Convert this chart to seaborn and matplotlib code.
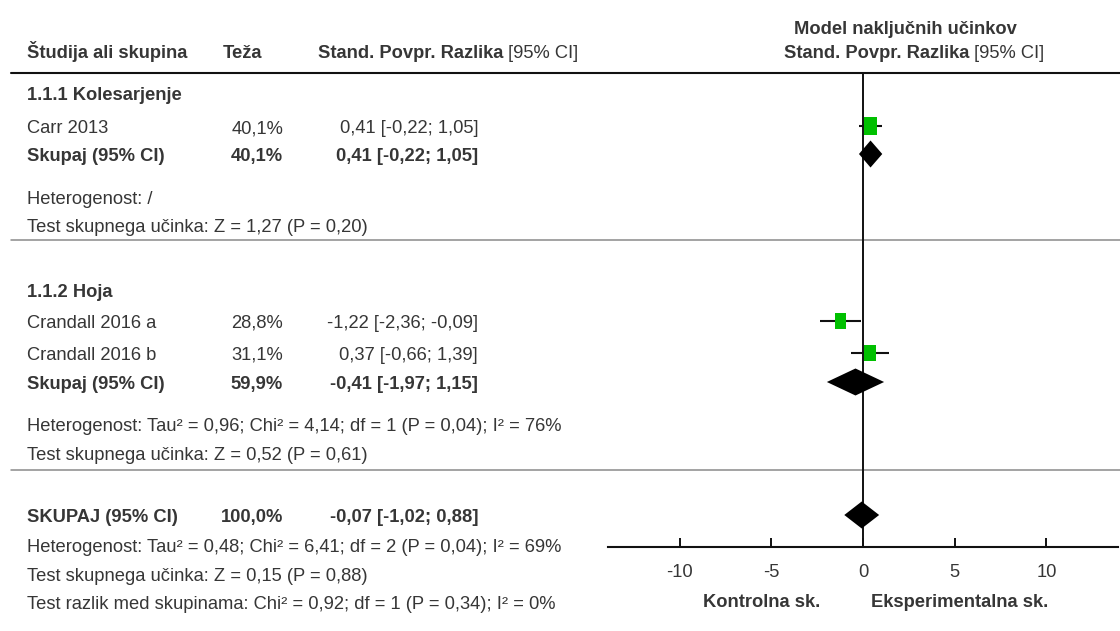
import numpy as np
import pandas as pd
import matplotlib.pyplot as plt
import seaborn as sns

# ---- data ----
studies = ['Carr 2013', 'Crandall 2016 a', 'Crandall 2016 b']
weights = [40.1, 28.8, 31.1]
smd = [0.41, -1.22, 0.37]
ci_low = [-0.22, -2.36, -0.66]
ci_high = [1.05, -0.09, 1.39]

pooled_labels = ['Skupaj (95% CI)', 'Skupaj (95% CI)', 'SKUPAJ (95% CI)']
pooled_weights = [40.1, 59.9, 100.0]
pooled_smd = [0.41, -0.41, -0.07]
pooled_low = [-0.22, -1.97, -1.02]
pooled_high = [1.05, 1.15, 0.88]

group_names = ['1.1.1 Kolesarjenje', '1.1.2 Hoja']
notes = [
    'Heterogenost: /',
    'Test skupnega učinka: Z = 1,27 (P = 0,20)',
    'Heterogenost: Tau² = 0,96; Chi² = 4,14; df = 1 (P = 0,04); I² = 76%',
    'Test skupnega učinka: Z = 0,52 (P = 0,61)',
    'Heterogenost: Tau² = 0,48; Chi² = 6,41; df = 2 (P = 0,04); I² = 69%',
    'Test skupnega učinka: Z = 0,15 (P = 0,88)',
    'Test razlik med skupinama: Chi² = 0,92; df = 1 (P = 0,34); I² = 0%',
]
x_ticks = [-10, -5, 0, 5, 10]
x_side_labels = ['Kontrolna sk.', 'Eksperimentalna sk.']

# ---- layout (pixel rows of the 1120x631 canvas) ----
study_rows = [126, 321, 353]
pooled_rows = [154, 382, 515]
group_rows = [93, 290]
note_rows = [197, 225, 424, 453, 545, 574, 602]
sep_rows = [240, 470]

def fmt(v):
    return f'{v:.2f}'.replace('.', ',')

def fmt_w(v):
    return f'{v:.1f}%'.replace('.', ',')

sns.set_theme(style='white')
plt.rcParams['font.family'] = ['Liberation Sans', 'DejaVu Sans']
txt = '#363636'
fs = 13.2

fig = plt.figure(figsize=(11.2, 6.31), dpi=100)
bg = fig.add_axes([0, 0, 1, 1])
bg.set_xlim(0, 1120)
bg.set_ylim(631, 0)
bg.axis('off')

def put(x, y, s, ha='left', bold=False, **kw):
    return bg.text(x, y + 7, s, ha=ha, va='baseline', fontsize=fs, color=txt,
                   fontweight='bold' if bold else 'normal', **kw)

# headers
put(905, 27, 'Model naključnih učinkov', ha='center', bold=True)
put(27, 51, 'Študija ali skupina', bold=True)
put(223, 51, 'Teža', bold=True)
for x0 in (318, 784):
    t = put(x0, 51, 'Stand. Povpr. Razlika', bold=True)
    bg.annotate(' [95% CI]', xy=(1, 0), xycoords=t, va='bottom', ha='left',
                fontsize=fs, color=txt)
bg.plot([11, 1120], [73, 73], color='#111111', lw=1.5)

# groups
for name, y in zip(group_names, group_rows):
    put(27, y, name, bold=True)

# study rows
for s, w, m, lo, hi, y in zip(studies, weights, smd, ci_low, ci_high, study_rows):
    put(27, y, s)
    put(283, y, fmt_w(w), ha='right')
    put(478, y, f'{fmt(m)} [{fmt(lo)}; {fmt(hi)}]', ha='right')

for s, w, m, lo, hi, y in zip(pooled_labels, pooled_weights, pooled_smd,
                              pooled_low, pooled_high, pooled_rows):
    put(27, y, s, bold=True)
    put(283, y, fmt_w(w), ha='right', bold=True)
    put(478, y, f'{fmt(m)} [{fmt(lo)}; {fmt(hi)}]', ha='right', bold=True)

for s, y in zip(notes, note_rows):
    put(27, y, s)

for y in sep_rows:
    bg.plot([11, 1120], [y, y], color='#8a8a8a', lw=1.1)

# ---- forest panel ----
fa = fig.add_axes([608 / 1120, (631 - 547) / 631, 510 / 1120, (547 - 73) / 631])
fa.set_facecolor('none')
fa.set_xlim(-13.9, 13.9)
fa.set_ylim(547, 73)

fa.axvline(0, color='#111111', lw=1.4, zorder=1)
fa.hlines(study_rows, ci_low, ci_high, color='#111111', lw=1.5, zorder=2)

df = pd.DataFrame({'smd': smd, 'weight': weights, 'y': study_rows})
rect = [(-0.36, -0.5), (0.36, -0.5), (0.36, 0.5), (-0.36, 0.5)]
sns.scatterplot(data=df, x='smd', y='y', size='weight', sizes=(0, 430),
                size_norm=(0, 100), marker=rect, color='#00c000',
                edgecolor='none', linewidth=0, legend=False, zorder=3, ax=fa)

for m, lo, hi, y in zip(pooled_smd, pooled_low, pooled_high, pooled_rows):
    fa.fill([lo, m, hi, m], [y, y - 13.5, y, y + 13.5], color='black', zorder=4, lw=0)

for side in ('left', 'right', 'top'):
    fa.spines[side].set_visible(False)
fa.spines['bottom'].set_color('#111111')
fa.spines['bottom'].set_linewidth(1.5)
fa.set_xticks(x_ticks)
fa.set_xticklabels([str(t) for t in x_ticks])
fa.set_yticks([])
fa.tick_params(axis='x', direction='in', length=6.5, width=1.4, color='#111111',
               labelsize=fs, labelcolor=txt, pad=12, bottom=True)
fa.set_xlabel('')
fa.set_ylabel('')

put(762, 600, x_side_labels[0], ha='center', bold=True)
put(960, 600, x_side_labels[1], ha='center', bold=True)

fig.savefig('out.png', dpi=100)
